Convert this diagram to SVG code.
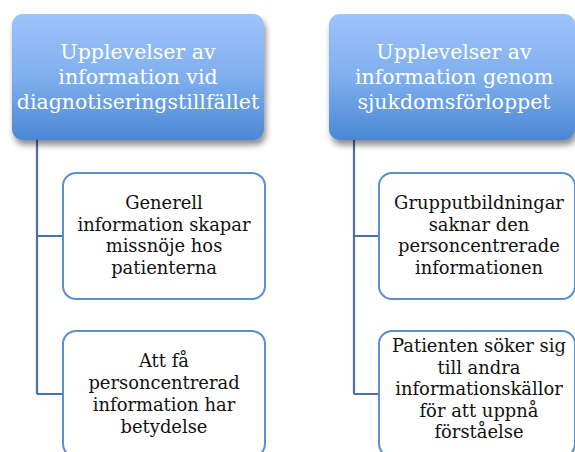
<svg xmlns="http://www.w3.org/2000/svg" width="575" height="452" viewBox="0 0 575 452">
<defs>
<linearGradient id="g" x1="0" y1="0" x2="0" y2="1">
<stop offset="0" stop-color="#9dc3fb"/>
<stop offset="0.5" stop-color="#80afee"/>
<stop offset="1" stop-color="#4a87d4"/>
</linearGradient>
<filter id="sh" x="-10%" y="-10%" width="130%" height="140%">
<feGaussianBlur in="SourceAlpha" stdDeviation="3"/>
<feOffset dx="2" dy="5" result="b"/>
<feComponentTransfer><feFuncA type="linear" slope="0.45"/></feComponentTransfer>
<feMerge><feMergeNode/><feMergeNode in="SourceGraphic"/></feMerge>
</filter>
</defs>
<style>
.top{fill:url(#g);filter:url(#sh)}
.child{fill:#ffffff;stroke:#5b8ed0;stroke-width:2}
.conn{fill:none;stroke:#4a70a6;stroke-width:2.2}
.tt{font-family:"DejaVu Serif",serif;font-size:20.5px;fill:#ffffff;text-anchor:middle}
.ct{font-family:"DejaVu Serif",serif;font-size:17.9px;fill:#111111;text-anchor:middle}
</style>
<rect width="575" height="452" fill="#ffffff"/>
<g id="connectors">
<path class="conn" d="M37,140 V394 M37,236 H63 M37,394 H63"/>
<path class="conn" d="M354,140 V394 M354,236 H379 M354,394 H379"/>
</g>
<g id="top-left">
<rect class="top" x="12" y="14" width="252" height="126" rx="11"/>
<text class="tt"><tspan x="138" y="59">Upplevelser av</tspan><tspan x="138" y="84">information vid</tspan><tspan x="138" y="109">diagnotiseringstillfället</tspan></text>
</g>
<g id="top-right">
<rect class="top" x="329" y="14" width="246" height="126" rx="11"/>
<text class="tt"><tspan x="454" y="59">Upplevelser av</tspan><tspan x="454" y="84">information genom</tspan><tspan x="454" y="109">sjukdomsförloppet</tspan></text>
</g>
<g id="left-child-1">
<rect class="child" x="63" y="173" width="202" height="126" rx="13"/>
<text class="ct"><tspan x="164" y="209">Generell</tspan><tspan x="164" y="231">information skapar</tspan><tspan x="164" y="252">missnöje hos</tspan><tspan x="164" y="274">patienterna</tspan></text>
</g>
<g id="left-child-2">
<rect class="child" x="63" y="331" width="202" height="126" rx="13"/>
<text class="ct"><tspan x="164" y="367">Att få</tspan><tspan x="164" y="389">personcentrerad</tspan><tspan x="164" y="411">information har</tspan><tspan x="164" y="433">betydelse</tspan></text>
</g>
<g id="right-child-1">
<rect class="child" x="379" y="173" width="196" height="126" rx="13"/>
<text class="ct"><tspan x="479" y="209">Grupputbildningar</tspan><tspan x="479" y="231">saknar den</tspan><tspan x="479" y="252">personcentrerade</tspan><tspan x="479" y="274">informationen</tspan></text>
</g>
<g id="right-child-2">
<rect class="child" x="379" y="331" width="196" height="126" rx="13"/>
<text class="ct"><tspan x="479" y="352">Patienten söker sig</tspan><tspan x="479" y="374">till andra</tspan><tspan x="479" y="395">informationskällor</tspan><tspan x="479" y="417">för att uppnå</tspan><tspan x="479" y="438">förståelse</tspan></text>
</g>
</svg>
